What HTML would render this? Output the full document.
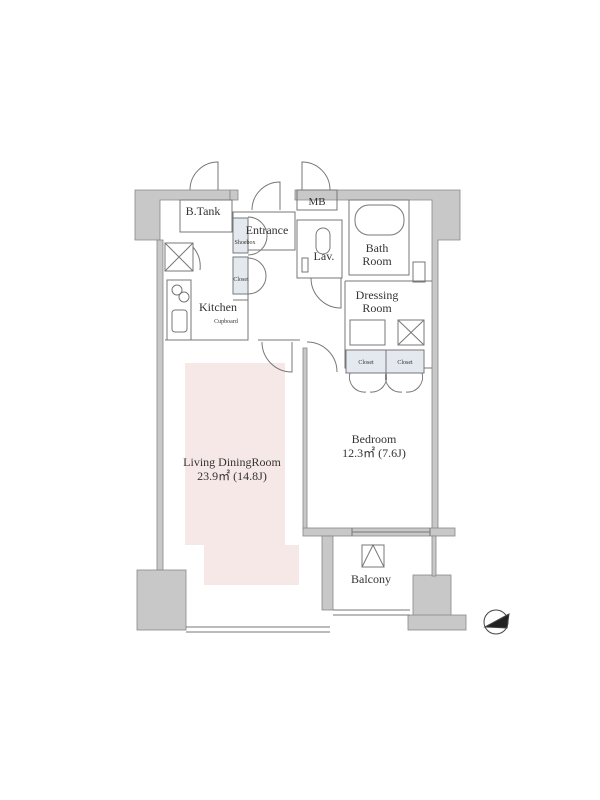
<!DOCTYPE html>
<html><head><style>body{margin:0;background:#fff}svg{display:block}text{font-family:"Liberation Serif",serif;fill:#333}</style></head><body>
<svg width="600" height="800" viewBox="0 0 600 800" xmlns="http://www.w3.org/2000/svg">
<g fill="#c8c8c8" stroke="#888" stroke-width="0.8">
<path d="M135 190 H230 V200 H160 V240 H135 Z"/>
<path d="M295 190 H460 V240 H438 V530 H432 V200 H295 Z" />
<rect x="230" y="190" width="8" height="10"/>
<rect x="157" y="240" width="6" height="330"/>
<rect x="137" y="570" width="49" height="60"/>
<rect x="303" y="348" width="4" height="182"/>
<rect x="303" y="528" width="152" height="8"/>
<rect x="322" y="536" width="11" height="74"/>
<rect x="413" y="575" width="38" height="45"/>
<rect x="408" y="615" width="58" height="15"/>
<rect x="432" y="536" width="4" height="40"/>
</g>
<rect x="185" y="363" width="100" height="182" fill="#f6e8e6"/>
<rect x="204" y="545" width="95" height="40" fill="#f6e8e6"/>
<g fill="none" stroke="#777" stroke-width="1">
<rect x="180" y="200" width="52" height="32"/>
<path d="M190 190 A28 28 0 0 1 218 162 V190"/>
<path d="M233 212 H295 V250 H233 Z"/>
<path d="M252 210 A28 28 0 0 1 280 182 V210"/>
<rect x="233" y="218" width="15" height="35" fill="#e4e8ef"/>
<rect x="233" y="257" width="15" height="37" fill="#e4e8ef"/>
<path d="M248 217 A17 17 0 0 1 248 255 M248 258 A17 17 0 0 1 248 294"/>
<path d="M248 294 V340 H165 M258 340 H300 M248 300 H233"/>
<rect x="297" y="190" width="40" height="20"/>
<path d="M302 190 V162 A28 28 0 0 1 330 190"/>
<rect x="297" y="220" width="45" height="58"/>
<rect x="316" y="228" width="14" height="26" rx="7"/>
<rect x="302" y="258" width="6" height="14"/>
<path d="M311 278 A30 30 0 0 0 341 308 V278"/>
<rect x="349" y="200" width="60" height="75"/>
<rect x="355" y="205" width="49" height="30" rx="14"/>
<rect x="413" y="262" width="12" height="20"/>
<path d="M345 281 H432 M345 281 V368 H432"/>
<rect x="350" y="320" width="35" height="25"/>
<rect x="398" y="320" width="26" height="25"/>
<path d="M398 320 L424 345 M424 320 L398 345"/>
<rect x="346" y="350" width="40" height="23" fill="#e4e8ef"/>
<rect x="386" y="350" width="38" height="23" fill="#e4e8ef"/>
<path d="M350 373 A15 15 0 0 0 366 392 M386 373 A15 15 0 0 1 370 392 M386 373 A15 15 0 0 0 402 392 M422 373 A15 15 0 0 1 406 392"/>
<path d="M262 342 A30 30 0 0 0 292 372 V342 M307 342 A30 30 0 0 1 337 372"/>
<rect x="165" y="243" width="28" height="28"/>
<path d="M165 243 L193 271 M193 243 L165 271 M193 247 A30 30 0 0 1 200 270"/>
<rect x="167" y="280" width="24" height="60"/>
<circle cx="177" cy="290" r="5"/><circle cx="184" cy="297" r="5"/>
<rect x="172" y="310" width="15" height="22" rx="3"/>
<path d="M352 528 V536 M430 528 V536 M352 532 H430"/>
<rect x="362" y="545" width="22" height="22"/>
<path d="M362 567 L373 545 L384 567"/>
<path d="M186 627 H330 M186 632 H330 M333 610 H410 M333 615 H410"/>
</g>
<g stroke="#444" fill="#fff"><circle cx="496" cy="622" r="12"/><path d="M485 627 L509 614 L507 628 Z" fill="#222"/></g>
<g font-size="12" text-anchor="middle">
<text x="203" y="215">B.Tank</text>
<text x="317" y="205" font-size="11">MB</text>
<text x="267" y="234">Entrance</text>
<text x="324" y="260">Lav.</text>
<text x="377" y="252">Bath</text>
<text x="377" y="265">Room</text>
<text x="377" y="299">Dressing</text>
<text x="377" y="312">Room</text>
<text x="218" y="311">Kitchen</text>
<text x="374" y="443">Bedroom</text>
<text x="374" y="457">12.3㎡ (7.6J)</text>
<text x="232" y="466">Living DiningRoom</text>
<text x="232" y="480">23.9㎡ (14.8J)</text>
<text x="371" y="583">Balcony</text>
<g font-size="6"><text x="245" y="244">Shoebox</text><text x="241" y="281">Closet</text><text x="226" y="323">Cupboard</text><text x="366" y="364">Closet</text><text x="405" y="364">Closet</text></g>
</g>
</svg>
</body></html>
